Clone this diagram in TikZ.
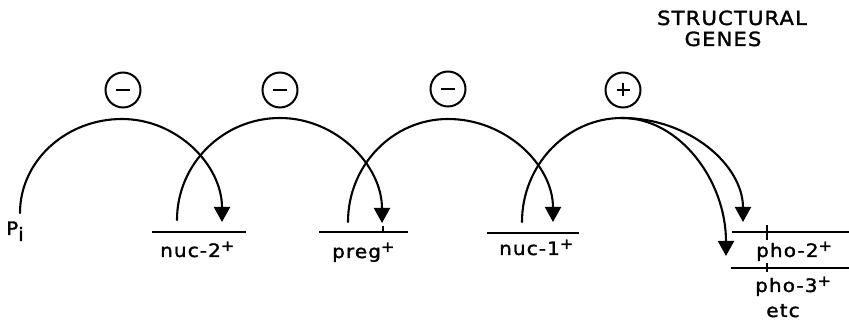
\documentclass[tikz,border=0pt]{standalone}
\usepackage{fontspec}
\setmainfont{DejaVu Sans}[FakeStretch=1.08, LetterSpace=6, FakeBold=1.6]
\usetikzlibrary{arrows.meta}
% raised plus sign for wild-type alleles
\newcommand\wtplus{\raisebox{6pt}{\fontsize{15}{15}\selectfont+}}
\begin{document}
\begin{tikzpicture}[x=1pt,y=1pt,
  wire/.style={line width=2.1pt, line cap=round},
  regarrow/.style={wire, -{Triangle[width=16pt,length=15pt]}},
  gene/.style={line width=2.1pt},
  lbl/.style={inner sep=0pt, font=\fontsize{18.5}{20}\selectfont},
  capslbl/.style={inner sep=0pt, font=\fontsize{19.5}{21}\selectfont, anchor=base},
  signcircle/.style={draw, circle, line width=2pt, minimum size=35pt, inner sep=0pt},
  negsign/.style={signcircle, path picture={
      \draw[line width=2.6pt] ([xshift=-7pt]path picture bounding box.center)
        -- ([xshift=7pt]path picture bounding box.center);}},
  possign/.style={signcircle, path picture={
      \draw[line width=2.6pt] ([xshift=-6.5pt]path picture bounding box.center)
        -- ([xshift=6.5pt]path picture bounding box.center);
      \draw[line width=2.6pt] ([yshift=-6.5pt]path picture bounding box.center)
        -- ([yshift=6.5pt]path picture bounding box.center);}}
]
\useasboundingbox (0,0) rectangle (849,321);

% heading
\node[capslbl] (hdA) at (732,296) {STRUCTURAL};
\node[capslbl] (hdB) at (723,275) {GENES};

% regulatory signs
\node[negsign] (sg1) at (123,231) {};
\node[negsign] (sg2) at (280,231) {};
\node[negsign] (sg3) at (448,232) {};
\node[possign] (sg4) at (623,231) {};

% genes
\draw[gene] (152,89) -- (246,89);
\draw[gene] (319,89) -- (408,89) (383,89) -- (383,95);
\draw[gene] (487,88) -- (579,88);
\draw[gene] (732,89) -- (849,89) (767,81) -- (767,96);
\draw[gene] (731,53) -- (849,53) (767,49) -- (767,58);

% labels
\node[lbl, anchor=base west] (pi)   at (6,86)   {P\raisebox{-6pt}{i}};
\node[lbl, anchor=base west] (nuc2) at (160,64) {nuc-2\wtplus};
\node[lbl, anchor=base west] (preg) at (332,63) {preg\wtplus};
\node[lbl, anchor=base west] (nuc1) at (499,66) {nuc-1\wtplus};
\node[lbl, anchor=base west] (pho2) at (756,64) {pho-2\wtplus};
\node[lbl, anchor=base west] (pho3) at (755,29) {pho-3\wtplus};
\node[lbl, anchor=base]      (etc)  at (783,4)  {etc};

% arc end points
\coordinate (s1) at (20,108);  \coordinate (p1) at (122,202); \coordinate (t1) at (222,99);
\coordinate (s2) at (177,101); \coordinate (p2) at (280,203); \coordinate (t2) at (382,98);
\coordinate (s3) at (348,99);  \coordinate (p3) at (448,202); \coordinate (t3) at (553,99);
\coordinate (s4) at (522,99);  \coordinate (p4) at (622,203);
\coordinate (tA) at (743,99);  \coordinate (tB) at (726,65);

% regulatory cascade
\draw[regarrow] (s1) .. controls +(0,52) and +(-56,0) .. (p1)
                     .. controls +(55,0) and +(0,57) .. (t1);
\draw[regarrow] (s2) .. controls +(0,56) and +(-57,0) .. (p2)
                     .. controls +(56,0) and +(0,58) .. (t2);
\draw[regarrow] (s3) .. controls +(0,57) and +(-55,0) .. (p3)
                     .. controls +(58,0) and +(0,57) .. (t3);
\draw[regarrow] (s4) .. controls +(0,57) and +(-55,0) .. (p4)
                     .. controls +(67,0) and +(0,57) .. (tA);
\draw[regarrow] (p4) .. controls +(57,0) and +(0,76) .. (tB);
\end{tikzpicture}
\end{document}
